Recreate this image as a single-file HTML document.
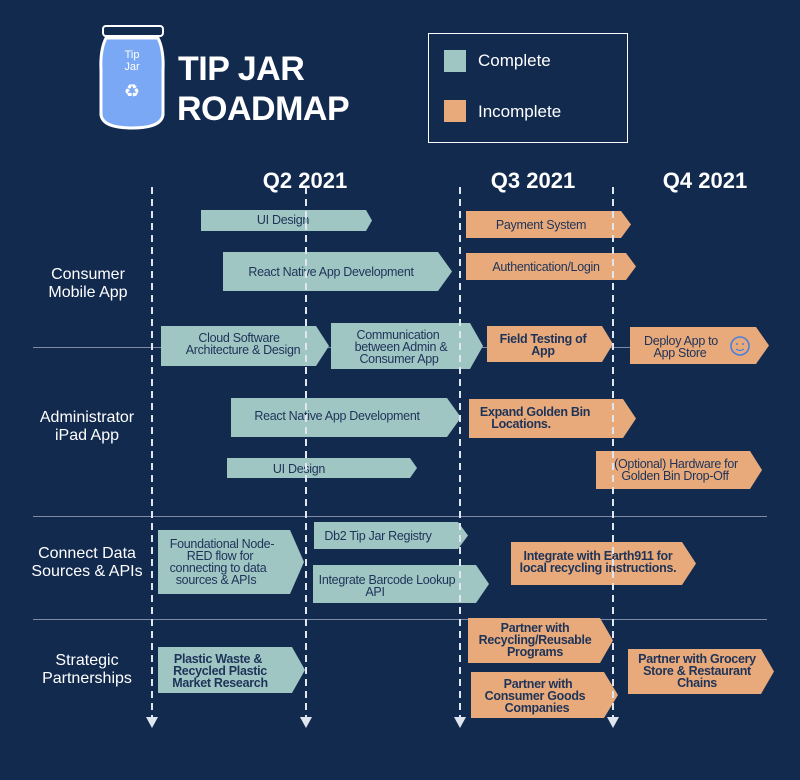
<!DOCTYPE html>
<html><head><meta charset="utf-8"><style>
html,body{margin:0;padding:0;background:#132a4f;}
svg{display:block}
.t{font-family:"Liberation Sans",sans-serif;font-size:12.5px;fill:#1e3358;text-anchor:middle;letter-spacing:-0.3px}
.w{font-family:"Liberation Sans",sans-serif;fill:#fff}
.g{fill:#a0c6c4}.o{fill:#e8aa7b}
.d{stroke:#dfe6ef;stroke-width:2;stroke-dasharray:7 5}
</style></head><body>
<svg width="800" height="780" viewBox="0 0 800 780" xmlns="http://www.w3.org/2000/svg">
<rect width="800" height="780" fill="#132a4f"/>
<!-- jar -->
<rect x="103" y="26" width="60" height="10" rx="3" fill="none" stroke="#fff" stroke-width="2"/>
<path d="M106 38 Q100 50 101 70 L101 115 Q103 128 132 128 Q161 128 163 115 L163 70 Q164 50 158 38 Z" fill="#7aa8f5" stroke="#fff" stroke-width="3"/>
<text x="132" y="58" class="w" font-family="Liberation Mono" font-size="11" text-anchor="middle" fill="#e8f0ff">Tip</text>
<text x="132" y="70" class="w" font-family="Liberation Mono" font-size="11" text-anchor="middle" fill="#e8f0ff">Jar</text>
<text x="132" y="97" class="w" font-size="18" text-anchor="middle">♻</text>
<text x="178" y="80" class="w" font-size="34" font-weight="bold" letter-spacing="-0.5">TIP JAR</text>
<text x="177" y="120" class="w" font-size="34" font-weight="bold" letter-spacing="-0.5">ROADMAP</text>
<!-- legend -->
<rect x="428.5" y="33.5" width="199" height="109" fill="none" stroke="#fff" stroke-width="1"/>
<rect x="444" y="50" width="22" height="22" class="g"/>
<rect x="444" y="100" width="22" height="22" class="o"/>
<text x="478" y="66" class="w" font-size="17">Complete</text>
<text x="478" y="117" class="w" font-size="17">Incomplete</text>
<!-- quarters -->
<text x="305" y="188" class="w" font-size="22" font-weight="bold" text-anchor="middle">Q2 2021</text>
<text x="533" y="188" class="w" font-size="22" font-weight="bold" text-anchor="middle">Q3 2021</text>
<text x="705" y="188" class="w" font-size="22" font-weight="bold" text-anchor="middle">Q4 2021</text>
<!-- separators -->
<g stroke="#7d8ca6" stroke-width="1">
<line x1="33" y1="347.5" x2="767" y2="347.5"/>
<line x1="33" y1="516.5" x2="767" y2="516.5"/>
<line x1="33" y1="619.5" x2="767" y2="619.5"/>
</g>
<!-- row labels -->
<g class="w" font-size="16" text-anchor="middle">
<text x="88" y="279">Consumer</text><text x="88" y="297">Mobile App</text>
<text x="87" y="422">Administrator</text><text x="87" y="440">iPad App</text>
<text x="87" y="558">Connect Data</text><text x="87" y="576">Sources &amp; APIs</text>
<text x="87" y="665">Strategic</text><text x="87" y="683">Partnerships</text>
</g>
<!-- boxes -->
<path class="g" d="M201 210 L366 210 L372 220.5 L366 231 L201 231 Z"/>
<text class="t" x="283" y="224">UI Design</text>
<path class="g" d="M223 252 L438 252 L452 271.5 L438 291 L223 291 Z"/>
<text class="t" x="331" y="276">React Native App Development</text>
<path class="o" d="M466 211 L621 211 L631 224.5 L621 238 L466 238 Z"/>
<text class="t" x="541" y="229">Payment System</text>
<path class="o" d="M466 253 L626 253 L636 266.5 L626 280 L466 280 Z"/>
<text class="t" x="546" y="271">Authentication/Login</text>
<path class="g" d="M161 326 L316 326 L329 346 L316 366 L161 366 Z"/>
<text class="t" x="239" y="342">Cloud Software</text><text class="t" x="243" y="354">Architecture &amp; Design</text>
<path class="g" d="M331 323 L470 323 L483 346 L470 369 L331 369 Z"/>
<text class="t" x="398" y="339">Communication</text><text class="t" x="401" y="351">between Admin &amp;</text><text class="t" x="399" y="363">Consumer App</text>
<path class="o" d="M487 326 L602 326 L613 344 L602 362 L487 362 Z"/>
<text class="t" x="543" y="343" font-weight="bold">Field Testing of</text><text class="t" x="543" y="355" font-weight="bold">App</text>
<path class="o" d="M630 327 L756 327 L769 345.5 L756 364 L630 364 Z"/>
<text class="t" x="681" y="345">Deploy App to</text><text class="t" x="680" y="357">App Store</text>
<circle cx="740" cy="346" r="9" fill="none" stroke="#4a7fe0" stroke-width="1.6"/>
<circle cx="737" cy="344" r="1" fill="#4a7fe0"/><circle cx="743" cy="344" r="1" fill="#4a7fe0"/>
<path d="M736 349 Q740 352 744 349" fill="none" stroke="#4a7fe0" stroke-width="1.2"/>
<path class="g" d="M231 398 L447 398 L461 417.5 L447 437 L231 437 Z"/>
<text class="t" x="337" y="420">React Native App Development</text>
<path class="o" d="M469 399 L623 399 L636 418.5 L623 438 L469 438 Z"/>
<text class="t" x="535" y="416" font-weight="bold">Expand Golden Bin</text><text class="t" x="521" y="428" font-weight="bold">Locations.</text>
<path class="g" d="M227 458 L410 458 L417 468 L410 478 L227 478 Z"/>
<text class="t" x="299" y="473">UI Design</text>
<path class="o" d="M596 451 L750 451 L762 470 L750 489 L596 489 Z"/>
<text class="t" x="676" y="468">(Optional) Hardware for</text><text class="t" x="675" y="480">Golden Bin Drop-Off</text>
<path class="g" d="M314 522 L458 522 L468 535.5 L458 549 L314 549 Z"/>
<text class="t" x="378" y="540">Db2 Tip Jar Registry</text>
<path class="g" d="M158 530 L290 530 L304 562 L290 594 L158 594 Z"/>
<text class="t" x="222" y="548">Foundational Node-</text><text class="t" x="220" y="560">RED flow for</text><text class="t" x="218" y="572">connecting to data</text><text class="t" x="216" y="584">sources &amp; APIs</text>
<path class="g" d="M313 565 L476 565 L489 584 L476 603 L313 603 Z"/>
<text class="t" x="387" y="584">Integrate Barcode Lookup</text><text class="t" x="375" y="596">API</text>
<path class="o" d="M511 542 L682 542 L696 563.5 L682 585 L511 585 Z"/>
<text class="t" x="598" y="560" font-weight="bold">Integrate with Earth911 for</text><text class="t" x="598" y="572" font-weight="bold">local recycling instructions.</text>
<path class="o" d="M468 618 L600 618 L613 640.5 L600 663 L468 663 Z"/>
<text class="t" x="535" y="632" font-weight="bold">Partner with</text><text class="t" x="535" y="644" font-weight="bold">Recycling/Reusable</text><text class="t" x="535" y="656" font-weight="bold">Programs</text>
<path class="o" d="M471 672 L604 672 L618 695 L604 718 L471 718 Z"/>
<text class="t" x="538" y="688" font-weight="bold">Partner with</text><text class="t" x="535" y="700" font-weight="bold">Consumer Goods</text><text class="t" x="537" y="712" font-weight="bold">Companies</text>
<path class="g" d="M158 647 L292 647 L305 670 L292 693 L158 693 Z"/>
<text class="t" x="218" y="663" font-weight="bold">Plastic Waste &amp;</text><text class="t" x="220" y="675" font-weight="bold">Recycled Plastic</text><text class="t" x="220" y="687" font-weight="bold">Market Research</text>
<path class="o" d="M628 649 L761 649 L774 671.5 L761 694 L628 694 Z"/>
<text class="t" x="697" y="663" font-weight="bold">Partner with Grocery</text><text class="t" x="697" y="675" font-weight="bold">Store &amp; Restaurant</text><text class="t" x="697" y="687" font-weight="bold">Chains</text>
<!-- dashed lines -->
<g>
<line class="d" x1="152" y1="187" x2="152" y2="717"/>
<line class="d" x1="306" y1="187" x2="306" y2="717"/>
<line class="d" x1="460" y1="187" x2="460" y2="717"/>
<line class="d" x1="613" y1="187" x2="613" y2="717"/>
</g>
<g fill="#dfe6ef">
<path d="M146 717 L158 717 L152 728 Z"/>
<path d="M300 717 L312 717 L306 728 Z"/>
<path d="M454 717 L466 717 L460 728 Z"/>
<path d="M607 717 L619 717 L613 728 Z"/>
</g>
</svg>
</body></html>
